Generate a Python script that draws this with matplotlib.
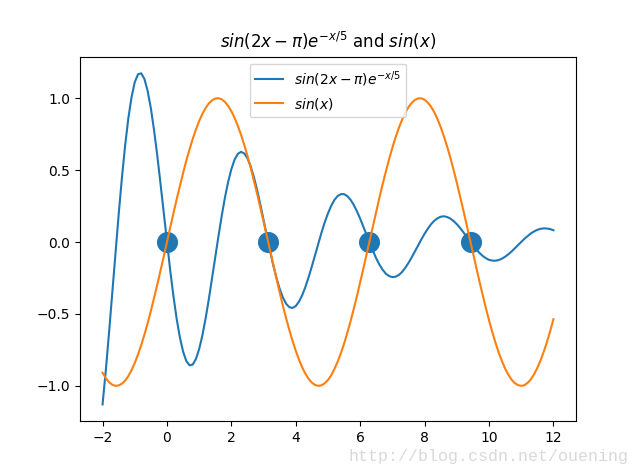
import numpy as np
import matplotlib
matplotlib.use("Agg")
import matplotlib.pyplot as plt

x_start, x_end, n_points = -2.0, 12.0, 141

y_damped = [-1.129,-0.895,-0.634,-0.359,-0.080,0.190,0.443,0.669,0.859,1.007,1.111,1.166,1.173,1.134,1.051,0.930,0.777,0.600,0.405,0.203,-0.000,-0.195,-0.374,-0.532,-0.662,-0.761,-0.827,-0.857,-0.852,-0.813,-0.744,-0.649,-0.531,-0.397,-0.253,-0.105,0.042,0.182,0.309,0.418,0.507,0.573,0.613,0.627,0.616,0.582,0.525,0.450,0.361,0.260,0.153,0.045,-0.061,-0.161,-0.250,-0.326,-0.386,-0.429,-0.453,-0.458,-0.445,-0.414,-0.369,-0.311,-0.243,-0.168,-0.089,-0.010,0.067,0.138,0.200,0.252,0.293,0.320,0.333,0.333,0.319,0.294,0.258,0.213,0.162,0.106,0.048,-0.010,-0.064,-0.115,-0.158,-0.194,-0.221,-0.237,-0.244,-0.241,-0.229,-0.208,-0.179,-0.145,-0.106,-0.065,-0.023,0.019,0.058,0.093,0.124,0.148,0.165,0.176,0.179,0.174,0.163,0.146,0.124,0.098,0.069,0.038,0.008,-0.022,-0.050,-0.075,-0.096,-0.112,-0.124,-0.129,-0.130,-0.125,-0.116,-0.102,-0.085,-0.066,-0.044,-0.021,0.001,0.023,0.042,0.060,0.074,0.085,0.092,0.095,0.094,0.090,0.082]

y_sin = [-0.909,-0.946,-0.974,-0.992,-1.000,-0.997,-0.985,-0.964,-0.932,-0.891,-0.841,-0.783,-0.717,-0.644,-0.565,-0.479,-0.389,-0.296,-0.199,-0.100,0.000,0.100,0.199,0.296,0.389,0.479,0.565,0.644,0.717,0.783,0.841,0.891,0.932,0.964,0.985,0.997,1.000,0.992,0.974,0.946,0.909,0.863,0.808,0.746,0.675,0.598,0.516,0.427,0.335,0.239,0.141,0.042,-0.058,-0.158,-0.256,-0.351,-0.443,-0.530,-0.612,-0.688,-0.757,-0.818,-0.872,-0.916,-0.952,-0.978,-0.994,-1.000,-0.996,-0.982,-0.959,-0.926,-0.883,-0.832,-0.773,-0.706,-0.631,-0.551,-0.465,-0.374,-0.279,-0.182,-0.083,0.017,0.117,0.215,0.312,0.405,0.494,0.578,0.657,0.729,0.794,0.850,0.899,0.938,0.968,0.988,0.999,0.999,0.989,0.970,0.941,0.902,0.855,0.798,0.734,0.663,0.585,0.501,0.412,0.319,0.223,0.124,0.025,-0.075,-0.174,-0.272,-0.366,-0.458,-0.544,-0.625,-0.700,-0.768,-0.828,-0.880,-0.923,-0.957,-0.981,-0.995,-1.000,-0.995,-0.979,-0.954,-0.919,-0.875,-0.823,-0.762,-0.694,-0.618,-0.537]

zero_x = [0.0, 3.1416, 6.2832, 9.4248]
zero_y = [0.0, 0.0, 0.0, 0.0]

label_damped = r"$sin(2x-\pi)e^{-x/5}$"
label_sin = r"$sin(x)$"
title = r"$sin(2x-\pi)e^{-x/5}$ and $sin(x)$"
watermark = "http://blog.csdn.net/ouening"

x = np.linspace(x_start, x_end, n_points)

fig, ax = plt.subplots(figsize=(6.4, 4.73), dpi=100)
ax.plot(x, y_damped, label=label_damped)
ax.plot(x, y_sin, label=label_sin)
ax.scatter(zero_x, zero_y, s=200)
ax.set_title(title)
ax.legend(loc="upper center")

fig.text(0.544, 0.025, watermark, family="Liberation Mono", fontsize=12,
         color="#d9d9d9")

fig.savefig("out.png")
